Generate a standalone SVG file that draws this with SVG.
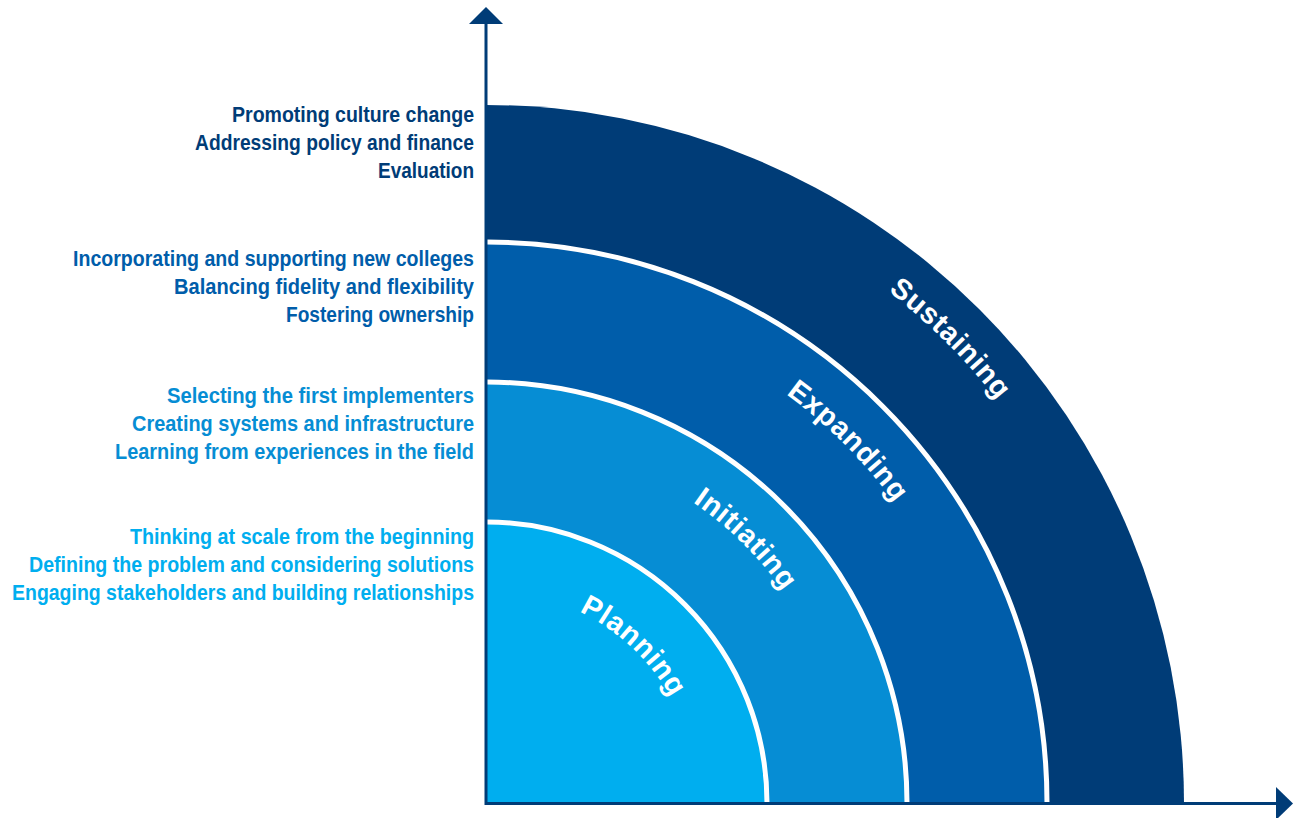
<svg xmlns="http://www.w3.org/2000/svg" xmlns:xlink="http://www.w3.org/1999/xlink" width="1293" height="818" viewBox="0 0 1293 818">
  <style>
    .side { font-family: "Liberation Sans", Arial, sans-serif; font-weight: bold; font-size: 22px; text-anchor: end; }
    .lab { font-family: "Liberation Sans", Arial, sans-serif; font-weight: bold; font-size: 29px; fill: #ffffff; text-anchor: middle; letter-spacing: 0.7px; }
    .sep { fill: none; stroke: #ffffff; stroke-width: 5; }
    .axis { fill: none; stroke: #003C77; stroke-width: 3; }
    .c1 { fill: #003C77; }
    .c2 { fill: #005DAA; }
    .c3 { fill: #068DD4; }
    .c4 { fill: #00AEEF; }
  </style>
  <defs>
    <path id="p1" d="M486,152 A651,651 0 0 1 1137,803"/>
    <path id="p2" d="M486,296 A507,507 0 0 1 993,803"/>
    <path id="p3" d="M486,438 A365,365 0 0 1 851,803"/>
    <path id="p4" d="M486,590 A213,213 0 0 1 699,803"/>
  </defs>
  <rect width="1293" height="818" fill="#ffffff"/>

  <g id="sustaining">
    <path class="c1" d="M486,105 A698,698 0 0 1 1184,803 L486,803 Z"/>
    <text class="lab"><textPath xlink:href="#p1" href="#p1" startOffset="50%">Sustaining</textPath></text>
    <g class="side c1">
      <text x="474" y="122" textLength="242" lengthAdjust="spacingAndGlyphs">Promoting culture change</text>
      <text x="474" y="150" textLength="279" lengthAdjust="spacingAndGlyphs">Addressing policy and finance</text>
      <text x="474" y="178" textLength="96" lengthAdjust="spacingAndGlyphs">Evaluation</text>
    </g>
  </g>

  <g id="expanding">
    <path class="c2" d="M486,242 A561,561 0 0 1 1047,803 L486,803 Z"/>
    <path class="sep" d="M487,242 A561,561 0 0 1 1047,803"/>
    <text class="lab"><textPath xlink:href="#p2" href="#p2" startOffset="50%">Expanding</textPath></text>
    <g class="side c2">
      <text x="474" y="266" textLength="401" lengthAdjust="spacingAndGlyphs">Incorporating and supporting new colleges</text>
      <text x="474" y="294" textLength="300" lengthAdjust="spacingAndGlyphs">Balancing fidelity and flexibility</text>
      <text x="474" y="322" textLength="188" lengthAdjust="spacingAndGlyphs">Fostering ownership</text>
    </g>
  </g>

  <g id="initiating">
    <path class="c3" d="M486,382 A421,421 0 0 1 907,803 L486,803 Z"/>
    <path class="sep" d="M487,382 A421,421 0 0 1 907,803"/>
    <text class="lab"><textPath xlink:href="#p3" href="#p3" startOffset="49.5%">Initiating</textPath></text>
    <g class="side c3">
      <text x="474" y="403" textLength="307" lengthAdjust="spacingAndGlyphs">Selecting the first implementers</text>
      <text x="474" y="431" textLength="342" lengthAdjust="spacingAndGlyphs">Creating systems and infrastructure</text>
      <text x="474" y="459" textLength="359" lengthAdjust="spacingAndGlyphs">Learning from experiences in the field</text>
    </g>
  </g>

  <g id="planning">
    <path class="c4" d="M486,522 A281,281 0 0 1 767,803 L486,803 Z"/>
    <path class="sep" d="M487,522 A281,281 0 0 1 767,803"/>
    <text class="lab"><textPath xlink:href="#p4" href="#p4" startOffset="48%">Planning</textPath></text>
    <g class="side c4">
      <text x="474" y="544" textLength="344" lengthAdjust="spacingAndGlyphs">Thinking at scale from the beginning</text>
      <text x="474" y="572" textLength="445" lengthAdjust="spacingAndGlyphs">Defining the problem and considering solutions</text>
      <text x="474" y="600" textLength="462" lengthAdjust="spacingAndGlyphs">Engaging stakeholders and building relationships</text>
    </g>
  </g>

  <g id="connectors">
    <path class="axis" d="M486,22 L486,803.5 L1278,803.5"/>
    <polygon class="c1" points="469,24 486,7 503,24"/>
    <polygon class="c1" points="1276,787 1293,803.5 1276,820"/>
  </g>
</svg>
